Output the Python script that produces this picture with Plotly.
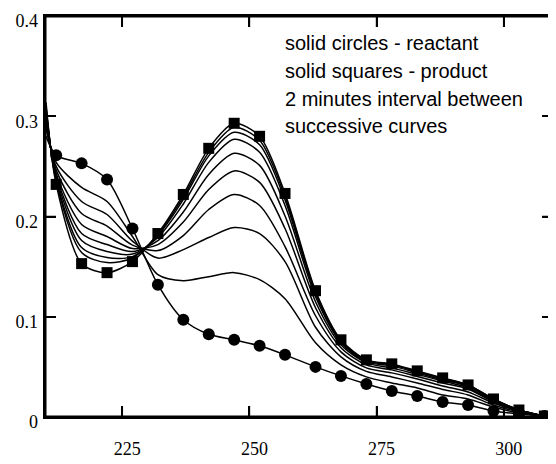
import plotly.graph_objects as go

wavelength = [210, 212, 217, 222, 227, 232, 237, 242, 247, 252, 257, 263, 268, 273, 278, 283, 288, 293, 298, 303, 308]

reactant = [0.280, 0.261, 0.253, 0.237, 0.188, 0.132, 0.097, 0.0825, 0.077, 0.071, 0.062, 0.050, 0.041, 0.033, 0.026, 0.021, 0.015, 0.012, 0.006, 0.003, 0.001]
product = [0.314, 0.232, 0.153, 0.144, 0.155, 0.183, 0.222, 0.268, 0.293, 0.280, 0.223, 0.126, 0.077, 0.057, 0.053, 0.046, 0.039, 0.032, 0.018, 0.007, 0.001]

t2 = [0.288, 0.254, 0.229, 0.215, 0.180, 0.142, 0.136, 0.140, 0.144, 0.137, 0.118, 0.074, 0.052, 0.040, 0.034, 0.029, 0.022, 0.018, 0.010, 0.004, 0.001]
t4 = [0.293, 0.250, 0.215, 0.202, 0.1755, 0.1585, 0.167, 0.179, 0.189, 0.183, 0.155, 0.0895, 0.060, 0.0455, 0.040, 0.034, 0.0275, 0.022, 0.012, 0.005, 0.001]
t6 = [0.297, 0.2465, 0.203, 0.1905, 0.1715, 0.166, 0.181, 0.207, 0.222, 0.211, 0.170, 0.101, 0.065, 0.049, 0.044, 0.038, 0.031, 0.025, 0.014, 0.006, 0.001]
t8 = [0.301, 0.243, 0.192, 0.180, 0.168, 0.172, 0.1945, 0.227, 0.2455, 0.234, 0.188, 0.109, 0.069, 0.052, 0.047, 0.0405, 0.034, 0.028, 0.015, 0.006, 0.001]
t10 = [0.304, 0.241, 0.183, 0.172, 0.165, 0.176, 0.2045, 0.242, 0.263, 0.251, 0.2005, 0.115, 0.072, 0.054, 0.049, 0.0425, 0.036, 0.029, 0.016, 0.006, 0.001]
t12 = [0.306, 0.239, 0.176, 0.165, 0.1625, 0.179, 0.2125, 0.254, 0.277, 0.264, 0.211, 0.120, 0.074, 0.055, 0.051, 0.044, 0.037, 0.0305, 0.017, 0.007, 0.001]
t14 = [0.309, 0.2365, 0.169, 0.159, 0.160, 0.181, 0.217, 0.2605, 0.284, 0.2716, 0.2166, 0.123, 0.0756, 0.056, 0.052, 0.045, 0.038, 0.031, 0.0175, 0.007, 0.001]
t16 = [0.310, 0.235, 0.164, 0.154, 0.1586, 0.182, 0.2195, 0.264, 0.289, 0.276, 0.220, 0.1245, 0.076, 0.0565, 0.0525, 0.0455, 0.0385, 0.0316, 0.018, 0.007, 0.001]

intermediates = [t2, t4, t6, t8, t10, t12, t14, t16]

x_range = [209.8, 309.7]
y_range = [0, 0.4]
x_ticks = [225, 250, 275, 300]
y_ticks = [0, 0.1, 0.2, 0.3, 0.4]
y_tick_text = ["0", "0.1", "0.2", "0.3", "0.4"]

notes = [
    "solid circles - reactant",
    "solid squares - product",
    "2 minutes interval between",
    "successive curves",
]

# figure geometry (page body adds an 8px margin, so the figure is offset by 8px)
fig_w, fig_h = 548, 456
m_l, m_r, m_t, m_b = 37, 3, 8, 47
plot_w = fig_w - m_l - m_r
plot_h = fig_h - m_t - m_b
tick_px = 11
dx_tick = tick_px * (x_range[1] - x_range[0]) / plot_w
dy_tick = tick_px * (y_range[1] - y_range[0]) / plot_h

fig = go.Figure()

line_style = dict(color="black", width=1.5, shape="spline", smoothing=0.8)

for curve in intermediates:
    fig.add_trace(go.Scatter(x=wavelength, y=curve, mode="lines", line=line_style,
                             hoverinfo="skip"))

fig.add_trace(go.Scatter(x=wavelength[1:], y=reactant[1:], mode="markers",
                         marker=dict(symbol="circle", size=12, color="black")))
fig.add_trace(go.Scatter(x=wavelength, y=reactant, mode="lines", line=line_style))
fig.add_trace(go.Scatter(x=wavelength, y=product, mode="lines", line=line_style))
fig.add_trace(go.Scatter(x=wavelength[1:], y=product[1:], mode="markers",
                         marker=dict(symbol="square", size=11, color="black")))

# frame drawn as a trace from the axis ranges
x0, x1 = x_range
y0, y1 = y_range
fig.add_trace(go.Scatter(x=[x0, x1, x1, x0, x0], y=[y0, y0, y1, y1, y0], mode="lines",
                         line=dict(color="black", width=3), cliponaxis=False,
                         hoverinfo="skip"))

# inside tick marks on all four sides, derived from the tick lists
tx, ty = [], []
for v in x_ticks:
    tx += [v, v, None, v, v, None]
    ty += [y0, y0 + dy_tick, None, y1, y1 - dy_tick, None]
for v in y_ticks[1:-1]:
    tx += [x0, x0 + dx_tick, None, x1, x1 - dx_tick, None]
    ty += [v, v, None, v, v, None]
fig.add_trace(go.Scatter(x=tx, y=ty, mode="lines", line=dict(color="black", width=1.5),
                         cliponaxis=False, hoverinfo="skip"))

fig.add_trace(go.Scatter(x=[], y=[], xaxis="x2", yaxis="y2", hoverinfo="skip"))

note_y = [0.933, 0.862, 0.793, 0.726]
for txt, yy in zip(notes, note_y):
    fig.add_annotation(text=txt, xref="paper", yref="paper", x=0.468, y=yy,
                       xanchor="left", yanchor="middle", showarrow=False,
                       font=dict(family="Liberation Sans, Arial, sans-serif", size=20, color="black"))

tick_font = dict(family="Liberation Serif, Times New Roman, serif", size=18, color="black")
frame = dict(showgrid=False, zeroline=False, showline=True, linecolor="black", linewidth=2,
             mirror="ticks", ticks="inside", ticklen=tick_px, tickwidth=1.5, tickcolor="black",
             showticklabels=False, automargin=False)
labels = dict(showgrid=False, zeroline=False, showline=False, ticks="",
              tickfont=tick_font, automargin=False)

fig.update_layout(
    width=fig_w, height=fig_h,
    margin=dict(l=m_l, r=m_r, t=m_t, b=m_b),
    paper_bgcolor="white", plot_bgcolor="white",
    showlegend=False,
    xaxis=dict(range=x_range, tickvals=x_ticks, **frame),
    yaxis=dict(range=y_range, tickvals=y_ticks, **frame),
    xaxis2=dict(range=x_range, tickvals=x_ticks, overlaying="x", anchor="y2", side="bottom",
                ticklabelstandoff=19, ticklabelshift=5, **labels),
    yaxis2=dict(range=y_range, tickvals=y_ticks, ticktext=y_tick_text, overlaying="y",
                anchor="x2", side="left", ticklabelstandoff=6, ticklabelshift=5, **labels),
)

fig.write_html("out.html")
